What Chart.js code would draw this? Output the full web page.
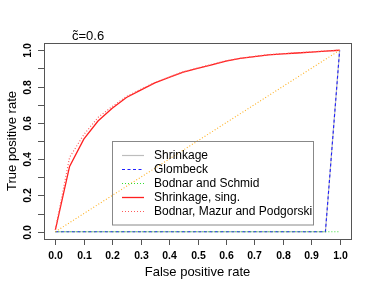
<!DOCTYPE html>
<html>
<head>
<meta charset="utf-8">
<script src="https://cdn.jsdelivr.net/npm/chart.js@4"></script>
<style>
  html, body { margin: 0; padding: 0; background: #fff; }
  canvas { display: block; }
</style>
</head>
<body>
<canvas id="roc" width="374" height="294"></canvas>
<script>
// Datos de la curva ROC
const fpr = [0, 0.05, 0.1, 0.15, 0.2, 0.25, 0.3, 0.35, 0.4, 0.45, 0.5,
             0.55, 0.6, 0.65, 0.7, 0.75, 0.8, 0.85, 0.9, 0.95, 1];
const tprShrinkage = [0, 0, 0, 0, 0, 0, 0, 0, 0, 0, 0, 0, 0, 0, 0, 0, 0, 0, 0, 0, 1];
const tprGlombeck = [0, 0, 0, 0, 0, 0, 0, 0, 0, 0, 0, 0, 0, 0, 0, 0, 0, 0, 0, 0, 1];
const tprBodnarSchmid = [0, 0, 0, 0, 0, 0, 0, 0, 0, 0, 0, 0, 0, 0, 0, 0, 0, 0, 0, 0, 0];
const tprShrinkSing = [0.01, 0.36, 0.51, 0.61, 0.68, 0.74, 0.78, 0.82, 0.85, 0.88, 0.90,
                       0.92, 0.94, 0.955, 0.965, 0.975, 0.98, 0.985, 0.99, 0.995, 1];
const tprBMP = [0.01, 0.41, 0.535, 0.63, 0.69, 0.745, 0.785, 0.822, 0.852, 0.882, 0.902,
                0.922, 0.942, 0.956, 0.966, 0.976, 0.981, 0.986, 0.991, 0.996, 1];
const diagX = [0, 1];
const diagY = [0, 1];

const xTicks = [0, 0.1, 0.2, 0.3, 0.4, 0.5, 0.6, 0.7, 0.8, 0.9, 1];
const yTicks = [0, 0.1, 0.2, 0.3, 0.4, 0.5, 0.6, 0.7, 0.8, 0.9, 1];
const yLabels = ['0.0', '', '0.2', '', '0.4', '', '0.6', '', '0.8', '', '1.0'];
const xLabels = ['0.0', '0.1', '0.2', '0.3', '0.4', '0.5', '0.6', '0.7', '0.8', '0.9', '1.0'];

const FONT = '"Liberation Sans", Arial, Helvetica, sans-serif';

const pts = (xs, ys) => xs.map((x, i) => ({ x: x, y: ys[i] }));

const series = [
    { label: 'Shrinkage', data: pts(fpr, tprShrinkage), color: '#bdbdbd', dash: [], width: 1.2, order: 6 },
    { label: 'Glombeck', data: pts(fpr, tprGlombeck), color: '#1f1fff', dash: [3, 2.5], width: 1.1, order: 5 },
    { label: 'Bodnar and Schmid', data: pts(fpr, tprBodnarSchmid), color: '#33dd33', dash: [1, 2], width: 1.1, order: 4 },
    { label: 'Shrinkage, sing.', data: pts(fpr, tprShrinkSing), color: '#ff2020', dash: [], width: 1.3, order: 3 },
    { label: 'Bodnar, Mazur and Podgorski', data: pts(fpr, tprBMP), color: '#ff5a5a', dash: [1, 2], width: 1.2, order: 2 }
];

// Plugin para caja, ejes estilo R, títulos y leyenda
const rStyle = {
    id: 'rStyle',
    afterDraw(chart) {
        const ctx = chart.ctx;
        const a = chart.chartArea;
        const sx = chart.scales.x, sy = chart.scales.y;
        ctx.save();

        // caja del gráfico
        ctx.strokeStyle = '#555';
        ctx.lineWidth = 1;
        ctx.strokeRect(Math.round(a.left) + 0.5, Math.round(a.top) + 0.5,
                       Math.round(a.right - a.left), Math.round(a.bottom - a.top));

        // marcas y etiquetas del eje x
        ctx.fillStyle = '#000';
        ctx.font = 'bold 10.5px ' + FONT;
        ctx.textAlign = 'center';
        ctx.textBaseline = 'middle';
        xTicks.forEach((v, i) => {
            const px = Math.round(sx.getPixelForValue(v)) + 0.5;
            ctx.beginPath();
            ctx.moveTo(px, a.bottom);
            ctx.lineTo(px, a.bottom + 6);
            ctx.stroke();
            ctx.fillText(xLabels[i], px, 256);
        });

        // marcas y etiquetas del eje y (rotadas)
        yTicks.forEach((v, i) => {
            const py = Math.round(sy.getPixelForValue(v)) + 0.5;
            ctx.beginPath();
            ctx.moveTo(a.left, py);
            ctx.lineTo(a.left - 6, py);
            ctx.stroke();
            if (yLabels[i]) {
                ctx.save();
                ctx.translate(28, py);
                ctx.rotate(-Math.PI / 2);
                ctx.fillText(yLabels[i], 0, 0);
                ctx.restore();
            }
        });

        // títulos de ejes
        ctx.font = '13px ' + FONT;
        ctx.fillText('False positive rate', 197.5, 272.5);
        ctx.save();
        ctx.translate(12, (a.top + a.bottom) / 2);
        ctx.rotate(-Math.PI / 2);
        ctx.fillText('True positive rate', 0, 0);
        ctx.restore();

        // título
        ctx.textAlign = 'left';
        ctx.font = '13px ' + FONT;
        ctx.fillText('c\u0303=0.6', 72, 36);

        // leyenda
        ctx.strokeStyle = '#888';
        ctx.lineWidth = 1;
        ctx.strokeRect(112.5, 141.5, 201, 83.5);
        ctx.font = '12px ' + FONT;
        series.forEach((s, i) => {
            const y = 155.5 + i * 14;
            ctx.beginPath();
            ctx.strokeStyle = s.color;
            ctx.lineWidth = s.width;
            ctx.setLineDash(s.dash);
            ctx.moveTo(122, y);
            ctx.lineTo(144, y);
            ctx.stroke();
            ctx.setLineDash([]);
            ctx.fillStyle = '#000';
            ctx.fillText(s.label, 154, y + 0.5);
        });

        ctx.restore();
    }
};

const datasets = series.map(s => ({
    label: s.label,
    data: s.data,
    borderColor: s.color,
    backgroundColor: s.color,
    borderWidth: s.width,
    borderDash: s.dash,
    pointRadius: 0,
    fill: false,
    tension: 0,
    order: s.order
}));
datasets.push({
    label: 'diagonal',
    data: pts(diagX, diagY),
    borderColor: '#ffb020',
    borderWidth: 1.1,
    borderDash: [1, 2],
    pointRadius: 0,
    fill: false,
    tension: 0,
    order: 1
});

new Chart(document.getElementById('roc').getContext('2d'), {
    type: 'line',
    data: { datasets: datasets },
    options: {
        responsive: false,
        animation: false,
        layout: { padding: { left: 44, right: 23, top: 43, bottom: 55 } },
        plugins: { legend: { display: false }, tooltip: { enabled: false } },
        scales: {
            x: { type: 'linear', min: -0.04, max: 1.04, display: false },
            y: { type: 'linear', min: -0.04, max: 1.04, display: false }
        }
    },
    plugins: [rStyle]
});
</script>
</body>
</html>
